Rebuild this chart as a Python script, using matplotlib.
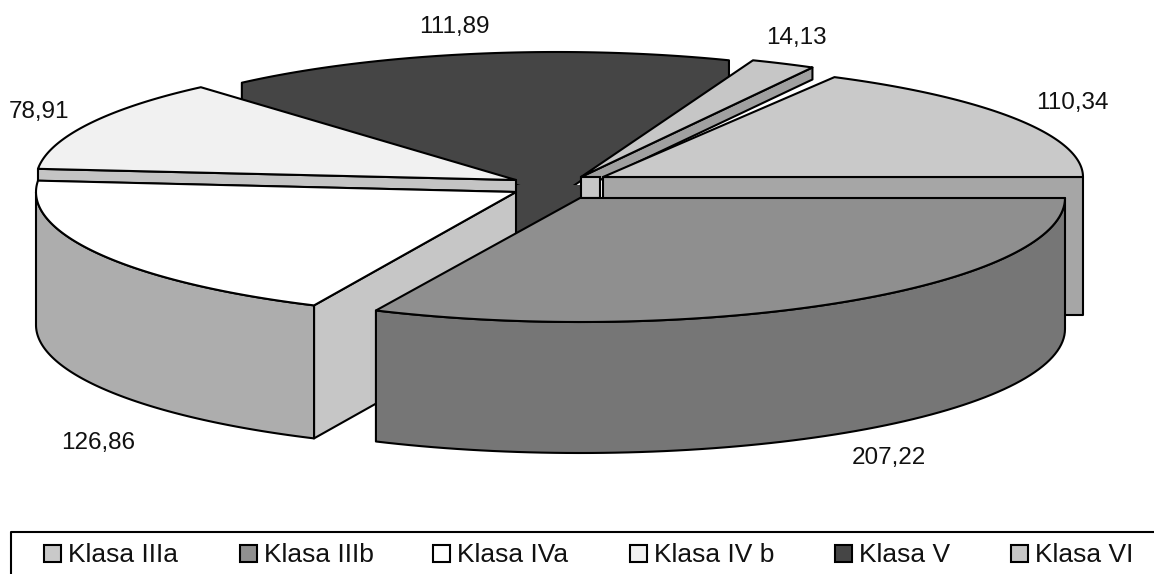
import numpy as np
import matplotlib
matplotlib.use('Agg')
import matplotlib.pyplot as plt
from matplotlib.patches import Polygon, Rectangle

# pie slices in the order of the legend
classes = ['Klasa IIIa', 'Klasa IIIb', 'Klasa IVa', 'Klasa IV b', 'Klasa V', 'Klasa VI']
values = [110.34, 207.22, 126.86, 78.91, 111.89, 14.13]

# look of each slice, same order as above
top_colors = ['#c9c9c9', '#8f8f8f', '#ffffff', '#f1f1f1', '#454545', '#c6c6c6']
outer_colors = ['#a6a6a6', '#767676', '#adadad', '#c4c4c4', '#454545', '#909090']
inner_colors = ['#a6a6a6', '#767676', '#c6c6c6', '#c4c4c4', '#454545', '#a0a0a0']
apex_x = [603, 580, 516, 516, 557, 581]
apex_y = [177, 198, 192, 180, 177, 177]
radius_x = [480, 485, 480, 480, 480, 480]
radius_y = [114, 124, 125, 123, 125, 125]
depth = [138, 131, 133, 12, 20, 12]
label_pos = [(1072, 103), (889, 458), (98, 443), (39, 112), (454, 27), (796, 38)]
legend_box_x = [44, 240, 433, 630, 835, 1011]
legend_text_x = [68, 264, 457, 654, 859, 1035]

LINE = 1.5
plt.rcParams['font.family'] = ['Liberation Sans', 'DejaVu Sans']


def arc_points(i, t1, t2):
    # points along the ellipse of slice i, angles in degrees
    t = np.radians(np.linspace(t1, t2, 80))
    x = apex_x[i] + radius_x[i] * np.cos(t)
    y = apex_y[i] - radius_y[i] * np.sin(t)
    return np.column_stack([x, y])


def draw_face(ax, pts, color, z):
    ax.add_patch(Polygon(pts, closed=True, facecolor=color, edgecolor='black',
                         linewidth=LINE, joinstyle='round', zorder=z))


def draw_slice(ax, i, t1, t2, z):
    arc = arc_points(i, t1, t2)
    apex = np.array([apex_x[i], apex_y[i]])
    drop = np.array([0, depth[i]])
    # cut faces, only the ones turned to the viewer
    if np.cos(np.radians(t1)) > 0:
        draw_face(ax, [apex, arc[0], arc[0] + drop, apex + drop], inner_colors[i], z)
    if np.cos(np.radians(t2)) < 0:
        draw_face(ax, [apex, arc[-1], arc[-1] + drop, apex + drop], inner_colors[i], z)
    # rim only where it faces the viewer
    if t2 > 180:
        rim = arc_points(i, max(t1, 180), min(t2, 360))
        draw_face(ax, np.vstack([rim, (rim + drop)[::-1]]), outer_colors[i], z)
    draw_face(ax, np.vstack([apex, arc]), top_colors[i], z)


def draw_dark_slice(ax, i, t1, t2, z):
    # the dark slice has no inner lines, just one outline
    arc = arc_points(i, t1, t2)
    apex = np.array([apex_x[i], apex_y[i]])
    drop = np.array([0, depth[i]])
    draw_face(ax, np.vstack([arc, arc[-1] + drop, apex + drop, arc[0] + drop]),
              top_colors[i], z)
    # it shows as a column between the other slices, hides the tip of the outline
    ax.add_patch(Rectangle((505, 185), 85, 55, facecolor=top_colors[i],
                           edgecolor='none', zorder=z))


fig = plt.figure(figsize=(11.54, 5.74), dpi=100)
ax = fig.add_axes([0, 0, 1, 1])
ax.set_xlim(0, 1154)
ax.set_ylim(574, 0)
ax.axis('off')

# slices run clockwise, the first one ends on the horizontal at the right
sweep = np.array(values) / sum(values) * 360
ends = np.cumsum(sweep)
lower = (sweep[0] - ends) % 360
lower[0] = 0
angles = [(a, a + s) for a, s in zip(lower, sweep)]

# back to front
order = [4, 5, 0, 3, 2, 1]
for z, i in enumerate(order):
    t1, t2 = angles[i]
    if i == 4:
        draw_dark_slice(ax, i, t1, t2, z + 1)
    else:
        draw_slice(ax, i, t1, t2, z + 1)
    if i == 5:
        # small block at the tip of the thin slice
        ax.add_patch(Rectangle((581, 177), 19, 21, facecolor=top_colors[i],
                               edgecolor='black', linewidth=LINE, zorder=z + 1))

for i, (x, y) in enumerate(label_pos):
    ax.text(x, y, f'{values[i]:.2f}'.replace('.', ','), ha='center', va='center',
            fontsize=17.5, color='#111111', zorder=20)

# legend frame runs off the picture on the right and at the bottom
ax.plot([11, 11, 1160], [580, 532, 532], color='black', lw=1.5, zorder=20)
for i, name in enumerate(classes):
    ax.add_patch(Rectangle((legend_box_x[i], 545), 17, 17, facecolor=top_colors[i],
                           edgecolor='black', linewidth=1.5, zorder=20))
    ax.text(legend_text_x[i], 562, name, ha='left', va='baseline', fontsize=19,
            color='#111111', zorder=20)

fig.savefig('out.png', dpi=100)
